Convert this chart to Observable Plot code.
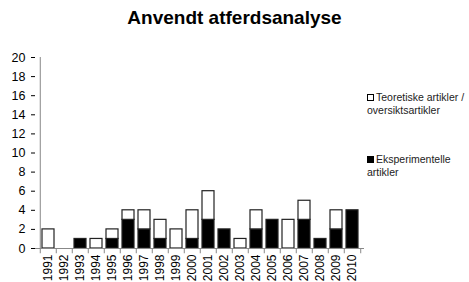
<!DOCTYPE html>
<html><head><meta charset="utf-8">
<script src="https://cdn.jsdelivr.net/npm/d3@7"></script>
<script src="https://cdn.jsdelivr.net/npm/@observablehq/plot@0.6"></script>
<style>
body{margin:0;background:#fff;font-family:"Liberation Sans",Arial,sans-serif;}
#wrap{position:relative;width:469px;height:282px;overflow:hidden;}
#title{position:absolute;left:0;width:469px;top:7px;text-align:center;font-weight:bold;font-size:19px;color:#000;}
.leg{position:absolute;left:367px;font-size:10.5px;line-height:13px;color:#222;}
.sw{display:inline-block;width:7px;height:7px;border:1px solid #000;margin-right:2px;vertical-align:0px;box-sizing:border-box;}
</style></head><body>
<div id="wrap"><div id="title">Anvendt atferdsanalyse</div>
<div class="leg" style="top:91px"><span class="sw" style="background:#fff"></span>Teoretiske artikler /<br>oversiktsartikler</div>
<div class="leg" style="top:153px"><span class="sw" style="background:#000"></span>Eksperimentelle<br>artikler</div>
</div>
<script>
const years = ["1991","1992","1993","1994","1995","1996","1997","1998","1999","2000","2001","2002","2003","2004","2005","2006","2007","2008","2009","2010"];
const experimental = [0,0,1,0,1,3,2,1,0,1,3,2,0,2,3,0,3,1,2,4];
const theoretical  = [2,0,0,1,1,1,2,2,2,3,3,0,1,2,0,3,2,0,2,0];
const yTicks = [0,2,4,6,8,10,12,14,16,18,20];
const seriesNames = ["Eksperimentelle artikler","Teoretiske artikler / oversiktsartikler"];

const rows = [];
years.forEach((y,i)=>{
  rows.push({year:y, series:seriesNames[0], value:experimental[i]});
  rows.push({year:y, series:seriesNames[1], value:theoretical[i]});
});
const nonzero = rows.filter(d=>d.value>0);
const step = (364-35)/20;
const chart = Plot.plot({
  width:469, height:282,
  marginLeft:35, marginRight:105, marginTop:57, marginBottom:34,
  style:{fontFamily:"Liberation Sans, Arial, sans-serif", color:"#000", background:"transparent"},
  x:{domain:years, padding:0.27, label:null, tickSize:0, tickRotate:-90, tickPadding:6},
  y:{domain:[0,20], ticks:yTicks, label:null, tickSize:4, tickPadding:6},
  color:{domain:seriesNames, range:["#000","#fff"]},
  marks:[
    Plot.barY(nonzero, Plot.stackY({x:"year", y:"value", fill:"series", order:seriesNames, stroke:"#222", strokeWidth:1.2})),
    Plot.ruleX(years,{x:d=>d, dx:-step/2, y1:0, y2:-0.55, stroke:"#888", clip:false}),
    Plot.ruleX(["2010"],{x:d=>d, dx:step/2, y1:0, y2:-0.55, stroke:"#888"}),
    Plot.ruleY([0],{stroke:"#888"}),
    Plot.ruleX([years[0]],{x:d=>d, dx:-step/2, y1:0, y2:20, stroke:"#888"})
  ]
});
chart.style.position="absolute"; chart.style.left="0"; chart.style.top="0";
d3.select(chart).selectAll("[aria-label='x-axis tick label']").attr("font-size",12);
d3.select(chart).selectAll("[aria-label='y-axis tick label']").attr("font-size",12.5);
document.getElementById("wrap").prepend(chart);
</script>
</body></html>
